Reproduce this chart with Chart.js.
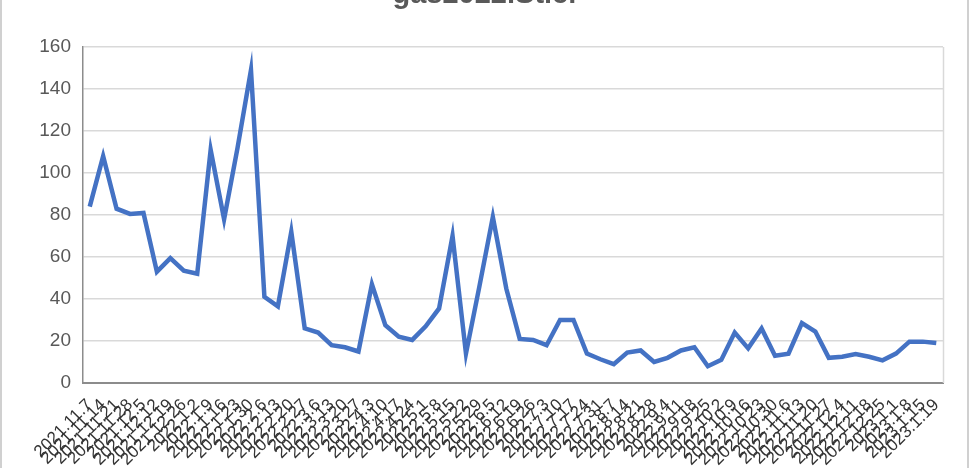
<!DOCTYPE html>
<html>
<head>
<meta charset="utf-8">
<script src="https://cdn.jsdelivr.net/npm/chart.js@4/dist/chart.umd.min.js"></script>
<style>
  html, body { margin: 0; padding: 0; background: #fff; overflow: hidden; }
  #wrap { position: relative; width: 972px; height: 468px; }
</style>
</head>
<body>
<div id="wrap"><canvas id="gas_chart"></canvas></div>
<script>
// data
var titleText = "gas2022.Stler";

var dates = [
    "2021.11.7", "2021.11.14", "2021.11.21", "2021.11.28", "2021.12.5", "2021.12.12", "2021.12.19", "2021.12.26",
    "2022.1.2", "2022.1.9", "2022.1.16", "2022.1.23", "2022.1.30", "2022.2.6", "2022.2.13", "2022.2.20",
    "2022.2.27", "2022.3.6", "2022.3.13", "2022.3.20", "2022.3.27", "2022.4.3", "2022.4.10", "2022.4.17",
    "2022.4.24", "2022.5.1", "2022.5.8", "2022.5.15", "2022.5.22", "2022.5.29", "2022.6.5", "2022.6.12",
    "2022.6.19", "2022.6.26", "2022.7.3", "2022.7.10", "2022.7.17", "2022.7.24", "2022.7.31", "2022.8.7",
    "2022.8.14", "2022.8.21", "2022.8.28", "2022.9.4", "2022.9.11", "2022.9.18", "2022.9.25", "2022.10.2",
    "2022.10.9", "2022.10.16", "2022.10.23", "2022.10.30", "2022.11.6", "2022.11.13", "2022.11.20", "2022.11.27",
    "2022.12.4", "2022.12.11", "2022.12.18", "2022.12.25", "2023.1.1", "2023.1.8", "2023.1.15", "2023.1.19"
];

var values = [
    84, 108, 83, 80.5, 81, 53, 59.5, 53.5, 52, 111, 78, 112, 149, 41, 36.5, 72,
    26, 24, 18, 17, 15, 47, 27.5, 22, 20.5, 27, 35.5, 70, 14, 46, 79, 45,
    21, 20.5, 18, 30, 30, 14, 11.3, 9, 14.5, 15.5, 10, 12, 15.5, 17, 8, 11,
    24, 16.5, 26, 13, 14, 28.5, 24.5, 12, 12.5, 13.8, 12.5, 10.8, 14, 19.7, 19.7, 19
];

var yTicks = [0, 20, 40, 60, 80, 100, 120, 140, 160];

// frame, clipped title and plot-area border, Excel style
var framePlugin = {
    id: 'frame',
    afterDraw: function(chart) {
        var c = chart.ctx, a = chart.chartArea;
        c.save();
        c.strokeStyle = '#d9d9d9';
        c.lineWidth = 1.5;
        c.beginPath();
        c.moveTo(a.right + 0.5, a.top);
        c.lineTo(a.right + 0.5, a.bottom);
        c.stroke();
        c.strokeStyle = '#d0d0d0';
        c.lineWidth = 2;
        c.strokeRect(1, -10, 967, 500);
        c.fillStyle = '#595959';
        c.font = 'bold 29px "Liberation Sans", Arial, sans-serif';
        c.textAlign = 'center';
        c.textBaseline = 'alphabetic';
        c.fillText(titleText, 486, 3);
        c.restore();
    }
};

var ctx = document.getElementById("gas_chart").getContext("2d");
new Chart(ctx, {
    type: 'line',
    data: {
        labels: dates,
        datasets: [{
            data: values,
            borderColor: '#4472C4',
            borderWidth: 4.5,
            pointRadius: 0,
            tension: 0,
            fill: false
        }]
    },
    options: {
        responsive: true,
        maintainAspectRatio: false,
        animation: false,
        layout: { padding: { top: 47, right: 29, left: 0, bottom: 0 } },
        plugins: {
            legend: { display: false },
            title: { display: false },
            tooltip: { enabled: false }
        },
        scales: {
            x: {
                offset: true,
                grid: { display: false },
                border: { color: '#8c8c8c', width: 2 },
                afterFit: function(axis) { axis.height = 85; },
                ticks: {
                    autoSkip: false,
                    maxRotation: 45,
                    minRotation: 45,
                    padding: 4,
                    color: '#333333',
                    font: { family: '"Liberation Sans", Arial, sans-serif', size: 17 }
                }
            },
            y: {
                min: 0,
                max: 160,
                afterFit: function(axis) { axis.width = 83; },
                afterBuildTicks: function(axis) {
                    axis.ticks = yTicks.map(function(v) { return { value: v }; });
                },
                grid: { color: '#d9d9d9', lineWidth: 1.5, drawTicks: false },
                border: { color: '#8c8c8c', width: 1.5 },
                ticks: {
                    padding: 12,
                    color: '#595959',
                    font: { family: '"Liberation Sans", Arial, sans-serif', size: 19 }
                }
            }
        }
    },
    plugins: [framePlugin]
});
</script>
</body>
</html>
